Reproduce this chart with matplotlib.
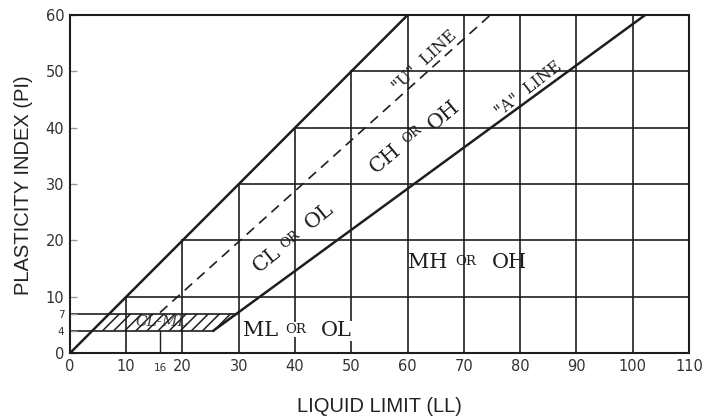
import matplotlib.pyplot as plt

# axis ticks
ll_ticks = [0, 10, 20, 30, 40, 50, 60, 70, 80, 90, 100, 110]
pi_ticks = [0, 10, 20, 30, 40, 50, 60]
small_ll_ticks = [16]
small_pi_ticks = [4, 7]

# boundary lines (end points)
limit_ll = [0, 60]
limit_pi = [0, 60]
a_line_ll = [25.5, 102.2]
a_line_pi = [4, 60]
u_line_ll = [16, 74.7]
u_line_pi = [7.2, 60]

# CL-ML band
clml_ll = [4, 7, 29.6, 25.5]
clml_pi = [4, 7, 7, 4]

INK = "#1e1e1e"
plt.rcParams["hatch.linewidth"] = 1.1
plt.rcParams["hatch.color"] = INK

fig = plt.figure(figsize=(7.06, 4.17), dpi=100)
ax = fig.add_axes([0.099, 0.153, 0.877, 0.811])
ax.set_xlim(0, 110)
ax.set_ylim(0, 60)

# partial grid, only to the right of the PI = LL line
for v in ll_ticks[1:-1]:
    ax.plot([v, v], [0, min(v, 60)], color=INK, lw=1.2, zorder=1)
for h in pi_ticks[1:-1]:
    ax.plot([h, 110], [h, h], color=INK, lw=1.2, zorder=1)
ax.plot([16, 16], [0, 4], color=INK, lw=1.0, zorder=1)
ax.plot([0, clml_ll[2]], [7, 7], color=INK, lw=1.2, zorder=1)
ax.plot([0, clml_ll[3]], [4, 4], color=INK, lw=1.2, zorder=1)

ax.text(16.4, 5.5, "CL-ML", fontsize=11, style="italic", family="DejaVu Serif",
        color="#444444", ha="center", va="center", zorder=1.5)
ax.fill(clml_ll, clml_pi, facecolor="none", edgecolor=INK, hatch="///", lw=0, zorder=2)
ax.plot(clml_ll[2:], clml_pi[2:], color=INK, lw=1.2, zorder=2)

ax.plot(limit_ll, limit_pi, color=INK, lw=1.8, zorder=3)
ax.plot(a_line_ll, a_line_pi, color=INK, lw=1.8, zorder=3)
ax.plot(u_line_ll, u_line_pi, color=INK, lw=1.2, ls=(0, (6, 4)), zorder=3)

for s in ax.spines.values():
    s.set_color(INK)
    s.set_linewidth(1.5)

# zone labels
serif = "DejaVu Serif"
def put(txt, x, y, size, rot=0, **kw):
    ax.text(x, y, txt, fontsize=size, rotation=rot, family=serif, color=INK,
            ha="center", va="center", rotation_mode="anchor", zorder=4, **kw)

put("CL", 35.0, 16.6, 15, 39)
put("OR", 39.2, 20.2, 9.5, 39)
put("OL", 44.4, 24.4, 15, 39)

put("CH", 56.1, 34.5, 15, 40)
put("OR", 60.8, 38.8, 9.5, 40)
put("OH", 66.5, 42.2, 15, 40)

put("MH", 63.6, 16.1, 15)
put("OR", 70.4, 16.3, 9.5)
put("OH", 78.1, 16.1, 15)

wb = dict(facecolor="white", edgecolor="none", pad=0.5)
put("ML", 33.8, 4.0, 15, bbox=wb)
put("OR", 40.1, 4.2, 9.5, bbox=wb)
put("OL", 47.4, 4.0, 15, bbox=wb)

put('"U"  LINE', 63.0, 51.8, 11.5, 43)
put('"A"  LINE', 81.5, 46.8, 11.5, 38)

# ticks
ax.set_xticks(ll_ticks)
ax.set_xticklabels([str(v) for v in ll_ticks])
ax.set_yticks(pi_ticks + small_pi_ticks)
ax.set_yticklabels([str(v) for v in pi_ticks + small_pi_ticks])
ax.tick_params(axis="x", length=0, pad=4, labelsize=10.5, labelcolor="#333333")
ax.tick_params(axis="y", length=5, direction="in", width=1, color="#999999",
               pad=4, labelsize=10.5, labelcolor="#333333")
for lab in ax.get_yticklabels():
    if lab.get_text() in [str(v) for v in small_pi_ticks]:
        lab.set_fontsize(7.5)
for v in small_ll_ticks:
    ax.annotate(str(v), xy=(v, 0), xycoords="data", xytext=(0, -12.6),
                textcoords="offset points", ha="center", va="baseline",
                fontsize=7.5, color="#333333", annotation_clip=False)

fig.text(0.538, 0.026, "LIQUID LIMIT (LL)", ha="center", va="center",
         fontsize=14.5, family="Liberation Sans", color="#222222")
fig.text(0.033, 0.556, "PLASTICITY INDEX (PI)", ha="center", va="center",
         rotation=90, fontsize=14.5, family="Liberation Sans", color="#222222")

fig.savefig("out.png", dpi=100)
